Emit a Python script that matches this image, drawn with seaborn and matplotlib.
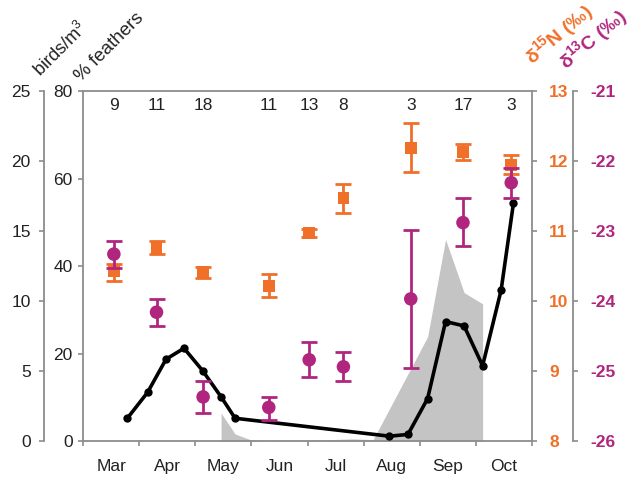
import numpy as np
import pandas as pd
import matplotlib
matplotlib.use('Agg')
import matplotlib.pyplot as plt
import seaborn as sns

# ---------------- data ----------------
months = ['Mar', 'Apr', 'May', 'Jun', 'Jul', 'Aug', 'Sep', 'Oct']

# black line (% feathers); x = months since 1 March
line_x = [0.79, 1.15, 1.48, 1.80, 2.13, 2.46, 2.71, 5.46, 5.79, 6.14, 6.46, 6.79, 7.12, 7.45, 7.67]
line_y = [5.2, 11.1, 18.7, 21.2, 16.1, 10.1, 5.2, 1.1, 1.5, 9.7, 27.3, 26.3, 17.2, 34.5, 54.4]

# grey area (birds/m3)
area_x = [2.46, 2.46, 2.71, 2.98, 3.20, 4.00, 4.80, 5.17, 6.14, 6.46, 6.79, 7.12, 7.12]
area_y = [0.0, 2.0, 0.5, 0.1, 0.0, 0.05, 0.15, 0.1, 7.45, 14.4, 10.6, 9.8, 0.0]

# isotope samples
sample_x = [0.55, 1.31, 2.14, 3.31, 4.03, 4.64, 5.84, 6.77, 7.63]
counts = [9, 11, 18, 11, 13, 8, 3, 17, 3]

n15_mean = [10.43, 10.76, 10.41, 10.21, 10.97, 11.47, 12.19, 12.13, 11.94]
n15_lo = [10.29, 10.67, 10.33, 10.06, 10.91, 11.26, 11.84, 12.02, 11.81]
n15_hi = [10.53, 10.86, 10.49, 10.39, 11.03, 11.67, 12.55, 12.25, 12.09]

c13_mean = [-23.33, -24.16, -25.37, -25.52, -24.84, -24.94, -23.97, -22.88, -22.31]
c13_lo = [-23.53, -24.35, -25.60, -25.70, -25.09, -25.14, -24.95, -23.22, -22.53]
c13_hi = [-23.14, -23.97, -25.14, -25.37, -24.59, -24.73, -22.99, -22.53, -22.10]

birds_ticks = [0, 5, 10, 15, 20, 25]
feather_ticks = [0, 20, 40, 60, 80]
n15_ticks = [8, 9, 10, 11, 12, 13]
c13_ticks = [-26, -25, -24, -23, -22, -21]

# ---------------- style ----------------
sns.set_style('ticks')
plt.rcParams['font.family'] = ['Liberation Sans', 'DejaVu Sans']
plt.rcParams['mathtext.fontset'] = 'custom'
plt.rcParams['mathtext.rm'] = 'Liberation Sans'
plt.rcParams['mathtext.bf'] = 'Liberation Sans:bold'
plt.rcParams['axes.unicode_minus'] = False

ORANGE = '#F0702A'
PURPLE = '#B0267E'
GREY = '#8C8C8C'
AREA = '#C4C4C4'
TXT = '#222222'
FS = 12.5

W, H = 641, 478
fig = plt.figure(figsize=(W / 100, H / 100), dpi=100)
L, R, T, B = 83, 532, 91, 441
ax = fig.add_axes([L / W, (H - B) / H, (R - L) / W, (B - T) / H])

# birds axis (host)
ax.set_xlim(0, 8)
ax.set_ylim(0, 25)
ax.fill_between(area_x, area_y, 0, color=AREA, lw=0)
ax.spines['left'].set_position(('outward', 39 * 0.72))
ax.spines['right'].set_visible(False)
for s in ['left', 'top', 'bottom']:
    ax.spines[s].set_color(GREY)
    ax.spines[s].set_linewidth(1.3)
ax.set_yticks(birds_ticks)
ax.tick_params(axis='y', colors=GREY, labelcolor=TXT, labelsize=FS, length=3.5, width=1.2, pad=6)
ax.set_xticks(np.arange(0, 9))
ax.set_xticklabels([])
ax.set_xticks(np.arange(0.5, 8), minor=True)
ax.set_xticklabels(months, minor=True)
ax.tick_params(axis='x', which='major', colors=GREY, length=3.5, width=1.2, direction='out')
ax.tick_params(axis='x', which='minor', length=0, labelsize=FS, labelcolor=TXT, pad=13)

# feathers axis
axf = ax.twinx()
axf.set_ylim(0, 80)
axf.yaxis.tick_left()
for s in ['right', 'top', 'bottom']:
    axf.spines[s].set_visible(False)
axf.spines['left'].set_color(GREY)
axf.spines['left'].set_linewidth(1.3)
axf.set_yticks(feather_ticks)
axf.tick_params(axis='y', colors=GREY, labelcolor=TXT, labelsize=FS, length=3.5, width=1.2, pad=4)
sns.lineplot(x=line_x, y=line_y, ax=axf, color='black', lw=2.6, marker='o',
             markersize=6, markeredgewidth=0, sort=False, legend=False)

# d15N axis
axn = ax.twinx()
axn.set_ylim(8, 13)
for s in ['left', 'top', 'bottom']:
    axn.spines[s].set_visible(False)
axn.spines['right'].set_color(GREY)
axn.spines['right'].set_linewidth(1.3)
axn.set_yticks(n15_ticks)
axn.tick_params(axis='y', colors=GREY, labelcolor=ORANGE, labelsize=FS, length=3.5, width=1.2, pad=9)
for lab in axn.get_yticklabels():
    lab.set_fontweight('bold')
nm = np.array(n15_mean)
axn.errorbar(sample_x, nm, yerr=[nm - np.array(n15_lo), np.array(n15_hi) - nm], fmt='none',
             ecolor=ORANGE, elinewidth=2, capsize=6, capthick=2)
sns.scatterplot(x=sample_x, y=n15_mean, ax=axn, marker='s', s=70, color=ORANGE,
                edgecolor='none', legend=False, zorder=3)

# d13C axis
axc = ax.twinx()
axc.set_ylim(-26, -21)
for s in ['left', 'top', 'bottom']:
    axc.spines[s].set_visible(False)
axc.spines['right'].set_position(('outward', 41 * 0.72))
axc.spines['right'].set_color(GREY)
axc.spines['right'].set_linewidth(1.3)
axc.set_yticks(c13_ticks)
axc.tick_params(axis='y', colors=GREY, labelcolor=PURPLE, labelsize=FS, length=3.5, width=1.2, pad=9)
for lab in axc.get_yticklabels():
    lab.set_fontweight('bold')
cm = np.array(c13_mean)
axc.errorbar(sample_x, cm, yerr=[cm - np.array(c13_lo), np.array(c13_hi) - cm], fmt='none',
             ecolor=PURPLE, elinewidth=2, capsize=6, capthick=2)
sns.scatterplot(x=sample_x, y=c13_mean, ax=axc, marker='o', s=95, color=PURPLE,
                edgecolor='none', legend=False, zorder=3)

for a in (ax, axf, axn, axc):
    a.set_ylabel('')
ax.set_xlabel('')

# sample counts
for xv, c in zip(sample_x, counts):
    ax.text(xv, 0.96, str(c), transform=ax.get_xaxis_transform(), ha='center', va='center',
            fontsize=FS, color=TXT)

# rotated axis titles (pixel coordinates)
def ptxt(x, y, s, rot=45, **kw):
    fig.text(x / W, 1 - y / H, s, rotation=rot, rotation_mode='anchor', ha='left',
             va='baseline', **kw)

ptxt(41, 78, 'birds/m$^3$', fontsize=13, color=TXT)
ptxt(81, 82, '% feathers', fontsize=13.5, color=TXT)
ptxt(533, 66, r'δ$^{\mathbf{15}}$N (‰)', rot=40, fontsize=14, color=ORANGE, fontweight='bold')
ptxt(567, 71, r'δ$^{\mathbf{13}}$C (‰)', rot=40, fontsize=14, color=PURPLE, fontweight='bold')

fig.savefig('out.png', dpi=100)
